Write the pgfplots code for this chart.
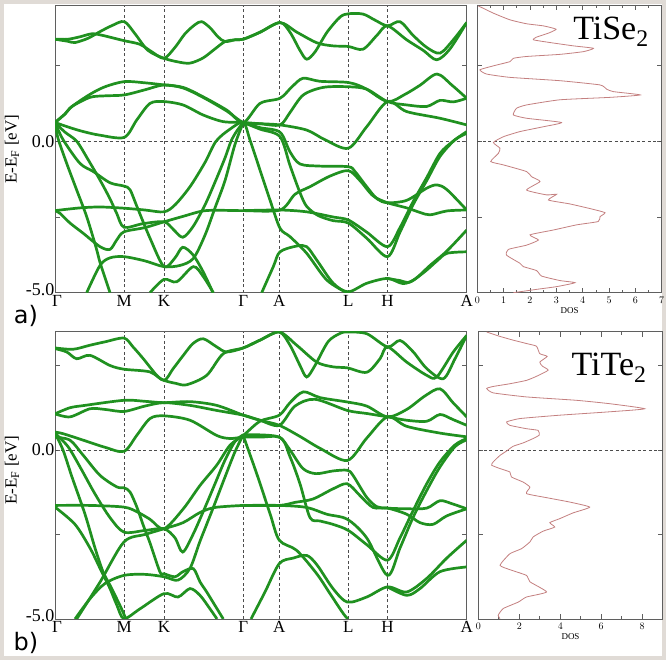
\documentclass[border=0pt]{standalone}
\usepackage{fontspec}
\setmainfont{Liberation Serif}
\newfontfamily\sansfont{DejaVu Sans}
\usepackage{pgfplots}
\pgfplotsset{compat=1.18}
\definecolor{bandgreen}{RGB}{32,145,32}
\definecolor{dosred}{RGB}{196,128,128}
\definecolor{axgray}{RGB}{95,95,95}
\definecolor{framecol}{RGB}{224,219,214}

\pgfplotsset{
 bandax/.style={scale only axis, width=411.7pt, xmin=55, xmax=466.7, ymin=-5,
   axis line style={draw=axgray, line width=0.8pt},
   xtick={55,124.3,164,243.3,279.3,348.3,387.5,466.7},
   xticklabels={\hspace*{4pt}Γ,M,K,Γ,A,L,H,A},
   xtick style={draw=none},
   xmajorgrids, grid style={black!70, line width=0.6pt, dash pattern=on 3pt off 2.5pt},
   ytick={-5,-2.5,0,2.5}, yticklabels={\raisebox{7pt}{-5.0},,0.0,},
   ytick pos=both, tick align=inside, major tick length=5pt,
   ytick style={draw=axgray, line width=0.8pt},
   xticklabel style={font=\fontsize{17}{19}\selectfont, yshift=1pt},
   yticklabel style={font=\fontsize{18}{20}\selectfont, xshift=3pt},
 },
 dosax/.style={scale only axis, width=184.4pt, xmin=0, ymin=-5,
   axis line style={draw=axgray, line width=0.8pt},
   xtick pos=both, ytick pos=both, tick align=inside,
   ytick={-2.5,0,2.5}, yticklabels={},
   major tick length=5pt, minor tick length=3pt,
   tick style={draw=axgray, line width=0.7pt},
   minor x tick num=1,
   tick label style={font=\fontsize{10}{11}\selectfont},
   xticklabel style={yshift=-1pt},
   xlabel={DOS}, xlabel style={font=\fontsize{9}{10}\selectfont, yshift=3pt},
 },
 bands/.style={color=bandgreen, line width=2.7pt, smooth, tension=0.5, no markers},
 dos/.style={color=dosred, line width=0.8pt, smooth, tension=0.3, no markers},
}

\begin{document}
\begin{tikzpicture}
\fill[white] (0,0) rectangle (666pt,660pt);
\draw[framecol, line width=4pt] (2pt,2pt) rectangle (664pt,658pt);

% ================= TOP BAND PANEL (TiSe2) =================
\begin{axis}[bandax, at={(55pt,655pt)}, anchor=north west, height=287.7pt, ymax=4.5]
\draw[black!70, line width=0.6pt, dash pattern=on 3pt off 2.5pt] (axis cs:55,0) -- (axis cs:466.7,0);
% upper conduction
\addplot[bands] coordinates {(55,3.37) (68,3.30) (75,3.26) (88,3.40) (100,3.62) (112,3.82) (124.3,3.95) (135,3.55) (148,3.0) (164,2.74) (178,2.62) (190,2.58) (203,2.75) (215,3.05) (225,3.29) (235,3.35) (243.3,3.37) (260,3.6) (280,3.92) (290,3.6) (300,3.0) (306.7,2.71) (315,2.95) (327,3.6) (340,4.1) (348.3,4.21) (363,4.2) (375,4.0) (387.5,3.81) (400,3.95) (413,3.5) (426.7,3.1) (440,2.91) (453.3,3.35) (466.7,3.92)};
\addplot[bands] coordinates {(55,3.37) (68,3.37) (80,3.45) (92,3.55) (102,3.5) (112,3.42) (124.3,3.32) (140,3.2) (152,2.95) (164,2.74) (175,3.1) (185,3.55) (195,3.85) (201.7,3.95) (210,3.75) (218,3.45) (225,3.29) (235,3.35) (243.3,3.37) (260,3.6) (280,3.92) (297,3.6) (317,3.25) (333,3.15) (348.3,3.13) (363,3.04) (377,3.5) (387.5,3.81) (406.7,3.35) (423.3,3.0) (436.7,2.69) (450,3.05) (466.7,3.92)};
% middle conduction
\addplot[bands] coordinates {(55,0.62) (65,0.9) (72,1.15) (90,1.55) (105,1.8) (124.3,1.97) (145,1.93) (164,1.86) (183,1.78) (203,1.47) (226.7,1.03) (243.3,0.62) (260,1.25) (280,1.42) (292,1.8) (303,2.08) (320,1.98) (348.3,1.94) (365,1.75) (387.5,1.31) (405,1.55) (420,1.85) (437,2.22) (452,1.85) (466.7,1.42)};
\addplot[bands] coordinates {(55,0.62) (65,0.9) (72,1.15) (90,1.45) (105,1.5) (124.3,1.53) (145,1.7) (164,1.86) (183,1.76) (203,1.45) (226.7,1.0) (243.3,0.62) (260,0.58) (280,0.54) (290,0.95) (303.3,1.53) (323.3,1.78) (348.3,1.80) (366.7,1.72) (387.5,1.31) (406.7,1.2) (426.7,1.15) (440,1.35) (453.3,1.3) (466.7,1.42)};
\addplot[bands] coordinates {(55,0.62) (70,0.45) (83.3,0.32) (100,0.2) (124.3,0.13) (136.7,0.7) (150,1.25) (164,1.31) (183,1.2) (203,0.87) (223,0.65) (243.3,0.62) (260,0.58) (280,0.54) (306.7,0.37) (325,0.05) (348.3,-0.23) (366.7,0.48) (387.5,1.31) (406.7,0.98) (440,0.76) (466.7,0.54)};
% valence
\addplot[bands] coordinates {(55,-2.29) (80,-2.2) (100,-2.17) (124,-2.21) (145,-2.27) (164,-2.33) (175,-2.1) (190,-1.5) (205,-0.7) (216,0.0) (230,0.4) (243.3,0.62) (250,0.04) (260,-0.95) (270,-1.94) (280,-2.87) (290,-3.15) (306.7,-3.7) (326.7,-4.58) (346.7,-5.0)};
\addplot[bands] coordinates {(55,-2.29) (60,-2.38) (70,-2.7) (83.3,-3.04) (100,-3.48) (110,-3.57) (116.7,-3.26) (124,-2.99) (145,-2.85) (164,-2.66) (183,-2.48) (203,-2.3) (220,-2.28) (243.3,-2.29) (280,-2.27) (295,-1.75) (310,-1.5) (330,-1.15) (348.3,-0.97) (360,-1.3) (373,-1.8) (387.5,-2.03) (406.7,-2.2) (420,-2.35) (430,-2.43) (447,-2.3) (466.7,-2.27)};
\addplot[bands] coordinates {(55,0.62) (65,0.3) (76.7,0.0) (88,-0.6) (100,-1.28) (110,-1.9) (116.7,-2.38) (124,-2.84) (143,-2.72) (164,-2.66) (173,-2.9) (182.7,-3.17) (193,-2.82) (205,-2.1) (215,-1.35) (225,-0.55) (231,0.0) (237,0.35) (243.3,0.62)};
\addplot[bands] coordinates {(55,0.62) (63.3,0.04) (80,-0.73) (93.3,-1.0) (110,-1.37) (124,-1.48) (130,-1.6) (137,-2.16) (150,-3.2) (164,-4.14) (175,-3.85) (182.7,-3.5) (193,-3.75) (203,-4.3) (213,-5.0)};
\addplot[bands] coordinates {(55,0.62) (58,0.1) (66.7,-0.73) (76.7,-1.61) (86.7,-2.49) (96,-3.5) (100,-4.0) (106,-4.6) (110,-5.0)};
\addplot[bands] coordinates {(86.7,-5.0) (100,-4.1) (110,-3.85) (124,-3.81) (145,-3.95) (164,-4.14) (180,-4.1) (193.3,-3.87) (205,-3.1) (215,-2.2) (225,-1.3) (235,-0.1) (243.3,0.62)};
\addplot[bands] coordinates {(150,-5.0) (164,-4.56) (176.7,-4.64) (193.3,-4.14) (203.3,-4.47) (213.3,-5.0)};
\addplot[bands] coordinates {(243.3,-2.29) (280,-2.27) (306.7,-2.33) (333,-2.5) (348.3,-2.6) (366.7,-3.0) (387.5,-3.48) (400,-2.85) (413,-2.0) (426.7,-1.2) (440,-0.4) (453,0.0) (466.7,0.32)};
\addplot[bands] coordinates {(243.3,0.62) (260,0.4) (280,0.15) (290,-0.8) (300,-1.7) (306.7,-2.15) (318,-2.45) (333,-2.62) (348.3,-2.7) (366.7,-3.2) (387.5,-3.81) (400,-3.0) (413,-2.1) (426.7,-1.3) (440,-0.5) (455,0.05) (466.7,0.26)};
\addplot[bands] coordinates {(243.3,0.62) (260,0.45) (280,0.3) (290,-0.35) (300,-0.75) (320,-0.82) (348.3,-0.84) (355,-1.0) (366.7,-1.5) (377,-1.9) (387.5,-2.03) (406.7,-1.95) (426.7,-1.55) (437,-1.44) (447,-1.6) (466.7,-2.27)};
\addplot[bands] coordinates {(261.7,-5) (273.3,-4.14) (280,-3.65) (296.7,-3.46) (306.7,-3.48) (316.7,-3.92) (333.3,-4.69) (348.3,-4.97) (366.7,-4.69) (387.5,-4.53) (403,-4.7) (415,-4.55) (430,-4.1) (447,-3.62) (466.7,-2.93)};
\addplot[bands] coordinates {(387.5,-4.53) (400,-4.6) (410,-4.65) (425,-4.3) (437,-3.95) (447,-3.7) (466.7,-3.65)};
\end{axis}

% ================= TOP DOS PANEL =================
\begin{axis}[dosax, at={(477.3pt,655pt)}, anchor=north west, height=287.7pt, ymax=4.5, xmax=7, xtick={0,1,...,7}]
\draw[black!70, line width=0.6pt, dash pattern=on 3pt off 2.5pt] (axis cs:0,0) -- (axis cs:7,0);
\addplot[dos] coordinates {(0.04,4.47) (0.61,4.23) (1.24,4.01) (1.87,3.88) (2.51,3.81) (2.99,3.70) (2.70,3.57) (2.25,3.44) (2.13,3.35) (2.76,3.26) (3.65,3.15) (4.41,3.07) (4.03,2.96) (3.14,2.87) (1.87,2.80) (1.37,2.74) (1.24,2.63) (0.61,2.49) (0.10,2.36) (0.35,2.22) (1.24,2.11) (3.14,2.00) (4.66,1.86) (4.91,1.72) (5.16,1.64) (6.18,1.53) (5.04,1.45) (3.14,1.37) (1.87,1.20) (1.49,1.09) (1.37,0.87) (1.87,0.76) (3.20,0.62) (2.51,0.48) (1.62,0.32) (0.99,0.15) (0.61,-0.04) (0.86,-0.23) (0.80,-0.40) (0.51,-0.67) (0.99,-0.78) (1.87,-1.00) (2.06,-1.17) (2.38,-1.33) (1.87,-1.61) (2.63,-1.77) (3.01,-1.75) (2.70,-1.94) (3.52,-2.07) (4.41,-2.25) (4.85,-2.36) (4.66,-2.49) (4.59,-2.65) (3.77,-2.76) (2.89,-2.93) (2.00,-3.09) (2.32,-3.26) (1.87,-3.43) (1.18,-3.57) (1.11,-3.76) (1.62,-4.03) (1.75,-4.14) (2.25,-4.27) (2.44,-4.45) (3.14,-4.60) (3.71,-4.67) (3.01,-4.80) (2.25,-4.89) (1.37,-5.0)};
\end{axis}

% ================= BOTTOM BAND PANEL (TiTe2) =================
\begin{axis}[bandax, at={(55pt,328.3pt)}, anchor=north west, height=287.3pt, ymax=3.5]
\draw[black!70, line width=0.6pt, dash pattern=on 3pt off 2.5pt] (axis cs:55,0) -- (axis cs:466.7,0);
% upper conduction
\addplot[bands] coordinates {(55,3.02) (73,2.98) (90,3.1) (105,3.2) (124,3.31) (133,3.05) (143.3,2.7) (156.7,2.21) (164,2.06) (176,1.97) (186.7,1.93) (206.7,2.21) (223.3,2.85) (243.3,3.02) (260,3.25) (279.3,3.49) (290,3.1) (300,2.5) (306.7,2.16) (315,2.5) (328,3.2) (340,3.45) (347.3,3.49) (366.7,3.44) (387.5,3.05) (400,3.24) (413.3,2.9) (426.7,2.41) (443.3,2.11) (455,2.7) (466.7,3.39)};
\addplot[bands] coordinates {(55,3.0) (66.7,2.9) (76.7,2.70) (90,2.8) (110,2.5) (124,2.39) (150,2.31) (164,2.06) (173,2.4) (183.3,2.8) (193,3.15) (203.3,3.29) (216.7,3.05) (226.7,2.9) (243.3,3.02) (260,3.25) (279.3,3.49) (296.7,3.1) (316.7,2.6) (333,2.46) (347.3,2.43) (366.7,2.3) (380,2.7) (387.5,3.05) (406.7,2.6) (426.7,2.21) (436.7,2.16) (453.3,2.9) (466.7,3.39)};
% middle conduction
\addplot[bands] coordinates {(55,1.07) (70,1.25) (85,1.32) (124,1.47) (145,1.44) (164,1.40) (190,1.43) (216.7,1.32) (243.3,1.03) (260,0.88) (279.3,0.73) (295,1.3) (315,1.5) (347.3,1.17) (366.7,1.08) (387.5,0.98) (406.7,0.88) (426.7,0.85) (440,1.05) (453,0.9) (466.7,0.73)};
\addplot[bands] coordinates {(55,1.07) (70,0.98) (90,1.22) (105,1.2) (124,1.14) (145,1.3) (164,1.40) (190,1.32) (216.7,1.17) (243.3,1.03) (260,0.88) (279.3,0.73) (300,0.4) (320,0.05) (347.3,-0.31) (366.7,0.35) (387.5,0.98) (406.7,0.7) (440,0.5) (466.7,0.39)};
\addplot[bands] coordinates {(55,0.53) (63.3,0.48) (83.3,0.29) (105,0.08) (124,-0.04) (136.7,0.43) (150,0.93) (164,1.01) (190,0.88) (216.7,0.43) (230,0.34) (243.3,0.38) (260,0.38) (279.3,0.38) (290,0.0) (303,-0.55) (316,-0.7) (333,-0.62) (347.3,-0.6) (353,-0.75) (366.7,-1.4) (377,-1.68) (387.5,-1.72) (406.7,-1.74) (426.7,-1.72) (440,-1.5) (453,-1.6) (466.7,-1.74)};
% valence
\addplot[bands] coordinates {(55,-1.64) (90,-1.64) (124,-1.69) (137,-1.83) (150,-2.05) (164,-2.33) (183.3,-1.74) (200,-1.05) (216.7,-0.45) (230,0.14) (243.3,0.43) (260,0.85) (279.3,1.03) (290,1.4) (303.3,1.72) (320,1.55) (347.3,1.42) (366.7,1.3) (387.5,0.98) (406.7,1.2) (425,1.6) (440,1.81) (453,1.4) (466.7,0.98)};
\addplot[bands] coordinates {(55,0.38) (70,0.29) (83.3,-0.16) (100,-0.75) (116.7,-1.09) (124,-1.12) (130,-1.24) (137,-1.7) (143.3,-2.23) (150,-2.75) (160,-3.61) (164,-3.66) (175,-3.75) (183,-3.6) (193.3,-3.51) (200,-3.9) (206.7,-4.2) (215,-4.6) (223.3,-5.0)};
\addplot[bands] coordinates {(55,-1.69) (75,-2.2) (90,-2.9) (100,-3.5) (110,-4.1) (117,-4.6) (124,-4.99) (140,-4.7) (164,-4.25) (178,-4.35) (190,-4.1) (200,-4.3) (210,-4.7) (217,-5.0)};
\addplot[bands] coordinates {(55,0.5) (63,0.0) (72,-0.8) (85,-1.9) (95,-2.9) (103,-3.6) (110,-4.0) (120,-4.6) (126,-5.0)};
\addplot[bands] coordinates {(55,0.5) (68,0.1) (80,-0.5) (95,-1.3) (110,-2.0) (124,-2.43) (145,-2.38) (164,-2.33) (175,-2.6) (182.7,-3.02) (193,-2.5) (205,-1.7) (215,-1.0) (225,-0.3) (235,0.25) (243.3,0.45)};
\addplot[bands] coordinates {(76.7,-5.0) (100,-3.91) (124,-2.72) (145,-2.5) (164,-2.33) (183,-2.15) (200,-1.85) (215,-1.7) (243.3,-1.64)};
\addplot[bands] coordinates {(75,-5.0) (90,-4.4) (105,-3.95) (124,-3.71) (145,-3.68) (164,-3.75) (178,-3.85) (190,-3.5) (200,-2.7) (212,-1.8) (225,-0.8) (235,-0.05) (243.3,0.45)};
\addplot[bands] coordinates {(243.3,0.42) (256.7,-0.7) (270,-1.88) (279.3,-2.67) (296.7,-2.97) (316.7,-3.66) (330,-4.25) (343.3,-4.84) (348,-5.0)};
\addplot[bands] coordinates {(251,-5.0) (265,-4.2) (279.3,-3.36) (293,-3.2) (306.7,-3.12) (317,-3.4) (333,-4.1) (347.3,-4.5) (366.7,-4.35) (387.5,-4.05) (406.7,-4.2) (426.7,-3.8) (446.7,-3.2) (466.7,-2.67)};
\addplot[bands] coordinates {(387.5,-4.05) (406.7,-4.3) (420,-4.1) (440,-3.6) (466.7,-3.46)};
\addplot[bands] coordinates {(243.3,-1.64) (279.3,-1.64) (306.7,-1.7) (326.7,-1.9) (347.3,-2.05) (366.7,-2.6) (387.5,-3.71) (400,-2.9) (413,-2.0) (426.7,-1.2) (440,-0.5) (455,0.1) (466.7,0.3)};
\addplot[bands] coordinates {(243.3,-1.64) (279.3,-1.64) (295,-1.55) (313,-1.45) (333,-1.15) (347.3,-1.0) (360,-1.35) (373,-1.7) (387.5,-1.72) (406.7,-1.9) (420,-2.15) (433,-2.2) (446.7,-1.95) (466.7,-1.74)};
\addplot[bands] coordinates {(243.3,0.45) (279.3,0.38) (290,-0.2) (300,-1.0) (310,-2.0) (320,-2.1) (333,-2.2) (348.3,-2.38) (366.7,-2.8) (387.5,-3.26) (400,-2.6) (413,-1.8) (426.7,-1.0) (440,-0.35) (455,0.15) (466.7,0.34)};
\end{axis}

% ================= BOTTOM DOS PANEL =================
\begin{axis}[dosax, at={(478.3pt,328.3pt)}, anchor=north west, height=287.3pt, ymax=3.5, xmax=9, xtick={0,2,4,6,8}]
\draw[black!70, line width=0.6pt, dash pattern=on 3pt off 2.5pt] (axis cs:0,0) -- (axis cs:9,0);
\addplot[dos] coordinates {(0.41,3.49) (1.06,3.36) (1.70,3.25) (2.35,3.15) (2.84,3.07) (3.00,2.85) (3.36,2.77) (3.00,2.60) (3.13,2.48) (3.41,2.36) (2.84,2.18) (2.35,2.06) (1.54,1.96) (0.73,1.88) (0.41,1.82) (0.73,1.69) (2.35,1.57) (4.79,1.47) (6.41,1.37) (8.12,1.22) (6.41,1.13) (3.98,1.03) (2.03,0.93) (1.38,0.83) (1.54,0.73) (2.35,0.63) (2.92,0.58) (2.97,0.44) (2.68,0.34) (2.19,0.21) (1.70,0.11) (1.38,-0.03) (1.06,-0.16) (0.73,-0.35) (0.65,-0.45) (1.06,-0.55) (1.54,-0.65) (1.62,-0.80) (2.19,-0.95) (2.52,-1.10) (2.35,-1.29) (3.33,-1.41) (4.46,-1.54) (5.44,-1.69) (4.63,-1.86) (3.98,-2.03) (3.49,-2.15) (3.73,-2.28) (3.17,-2.40) (2.68,-2.57) (2.52,-2.72) (2.11,-2.92) (1.54,-3.07) (1.06,-3.41) (1.54,-3.54) (2.35,-3.71) (2.52,-3.90) (3.33,-4.20) (2.35,-4.35) (1.95,-4.50) (1.22,-4.69) (0.97,-4.89) (1.06,-4.99)};
\end{axis}

% ================= texts =================
\node[rotate=90, font=\fontsize{17}{19}\selectfont] at (12pt,511pt) {E-E\textsubscript{F} [eV]};
\node[rotate=90, font=\fontsize{17}{19}\selectfont] at (12pt,190pt) {E-E\textsubscript{F} [eV]};
\node[font=\sansfont\fontsize{24}{26}\selectfont] at (26pt,344pt) {a)};
\node[font=\sansfont\fontsize{24}{26}\selectfont] at (26pt,17pt) {b)};
\node[font=\fontsize{34}{38}\selectfont] at (611pt,628pt) {TiSe\textsubscript{2}};
\node[font=\fontsize{34}{38}\selectfont] at (609pt,292pt) {TiTe\textsubscript{2}};

\pgfresetboundingbox
\path[use as bounding box] (0,0) rectangle (666pt,660pt);
\end{tikzpicture}
\end{document}
